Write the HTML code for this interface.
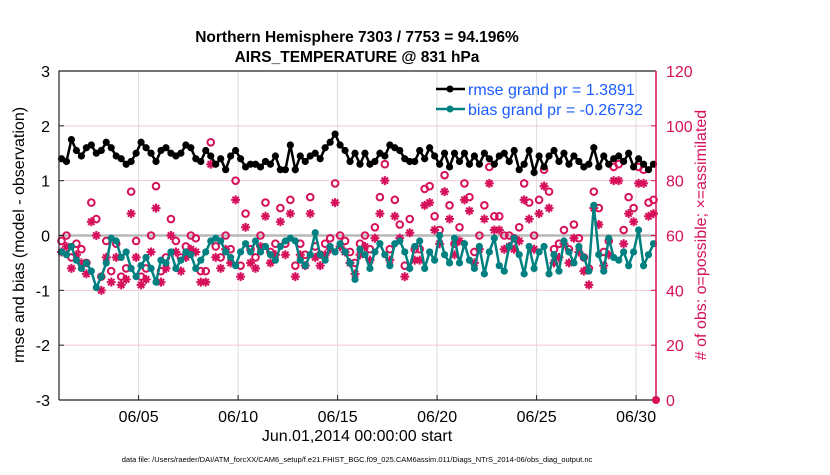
<!DOCTYPE html>
<html><head><meta charset="utf-8"><style>
body{margin:0;background:#fff;}
svg text{font-family:"Liberation Sans",Arial,sans-serif;}
</style></head><body>
<svg id="chart" width="830" height="470" viewBox="0 0 830 470" xmlns="http://www.w3.org/2000/svg">
<text x="357" y="42" text-anchor="middle" font-size="15.5" font-weight="bold">Northern Hemisphere 7303 / 7753 = 94.196%</text>
<text x="357" y="62" text-anchor="middle" font-size="15.5" font-weight="bold">AIRS_TEMPERATURE @ 831 hPa</text>
<g id="grid"></g>
<g id="marks"></g>
<g id="axes"></g>
<text transform="translate(24,235) rotate(-90)" text-anchor="middle" font-size="16">rmse and bias (model - observation)</text>
<text transform="translate(706,235) rotate(-90)" text-anchor="middle" font-size="16" fill="#d6105a"># of obs: o=possible; ×=assimilated</text>
<text x="357" y="441" text-anchor="middle" font-size="16">Jun.01,2014 00:00:00 start</text>
<text x="357" y="462" text-anchor="middle" font-size="7.5">data file: /Users/raeder/DAI/ATM_forcXX/CAM6_setup/f.e21.FHIST_BGC.f09_025.CAM6assim.011/Diags_NTrS_2014-06/obs_diag_output.nc</text>
<g>
<line x1="436" y1="89" x2="465" y2="89" stroke="#000" stroke-width="2.5"/><circle cx="450" cy="89" r="3.5" fill="#000"/>
<text x="468" y="95" font-size="16" fill="#1a5cff">rmse grand pr = 1.3891</text>
<line x1="436" y1="109" x2="465" y2="109" stroke="#008080" stroke-width="2.5"/><circle cx="450" cy="109" r="3.5" fill="#008080"/>
<text x="468" y="115" font-size="16" fill="#1a5cff">bias grand pr = -0.26732</text>
</g>
</svg>
<script>
const rmse=[1.4,1.35,1.75,1.55,1.45,1.6,1.65,1.5,1.55,1.7,1.6,1.45,1.4,1.3,1.35,1.5,1.7,1.6,1.5,1.35,
1.55,1.6,1.5,1.45,1.5,1.65,1.6,1.4,1.35,1.55,1.45,1.3,1.4,1.2,1.45,1.55,1.4,1.25,1.3,1.3,
1.25,1.35,1.3,1.45,1.2,1.2,1.65,1.2,1.45,1.35,1.45,1.5,1.4,1.6,1.7,1.85,1.65,1.55,1.35,1.5,
1.3,1.5,1.3,1.35,1.5,1.45,1.65,1.6,1.55,1.4,1.35,1.35,1.55,1.4,1.6,1.45,1.3,1.5,1.25,1.5,
1.35,1.5,1.3,1.45,1.3,1.5,1.4,1.3,1.45,1.5,1.35,1.55,1.2,1.3,1.55,1.15,1.45,1.25,1.45,1.55,
1.35,1.5,1.3,1.45,1.35,1.25,1.3,1.6,1.25,1.45,1.3,1.4,1.45,1.35,1.5,1.25,1.4,1.3,1.2,1.3];
const bias=[-0.3,-0.35,-0.2,-0.45,-0.6,-0.5,-0.65,-0.95,-0.75,-0.5,-0.05,-0.1,-0.4,-0.3,-0.6,-0.75,-0.55,-0.4,-0.6,-0.85,
-0.45,-0.5,-0.3,-0.6,-0.45,-0.3,-0.35,-0.6,-0.45,-0.3,-0.1,-0.05,-0.1,-0.3,-0.4,-0.55,-0.3,-0.15,-0.3,-0.1,
-0.3,-0.2,-0.35,-0.45,-0.2,-0.1,-0.05,-0.1,-0.45,-0.55,-0.35,0.05,-0.35,-0.45,-0.2,-0.3,-0.15,-0.3,-0.5,-0.8,
-0.25,-0.35,-0.6,-0.3,-0.15,-0.35,-0.55,-0.15,-0.1,-0.3,-0.6,-0.2,-0.1,-0.6,-0.3,-0.45,0.0,-0.35,-0.5,-0.05,
-0.5,-0.15,-0.45,-0.6,-0.2,-0.7,-0.3,-0.05,-0.55,-0.65,-0.2,-0.05,-0.35,-0.7,-0.2,-0.6,-0.3,-0.2,-0.7,-0.35,
-0.65,-0.1,-0.3,-0.5,-0.2,-0.4,-0.65,0.55,-0.35,-0.65,-0.05,-0.4,-0.45,-0.3,-0.55,-0.3,0.1,-0.55,-0.35,-0.15];
const possible=[58,60,52,57,55,50,72,66,45,58,47,57,45,48,76,58,45,48,60,78,
47,52,66,58,52,56,60,59,47,47,94,56,52,60,55,80,49,68,55,52,
60,72,54,57,70,57,73,49,57,53,74,56,53,57,59,79,60,58,54,50,
57,60,55,63,74,86,55,73,64,49,66,55,55,77,78,67,62,82,71,57,
63,79,74,54,60,71,85,67,67,60,60,59,63,79,72,60,73,84,76,55,
57,62,55,64,59,52,48,76,70,54,58,85,86,62,74,70,85,84,72,73];
const assimilated=[54,56,48,53,50,46,65,60,40,52,43,52,42,44,68,52,42,44,54,70,
43,48,60,54,47,52,55,54,43,43,86,52,48,55,50,73,45,63,50,48,
56,67,50,53,65,53,68,45,53,49,68,52,49,53,55,72,56,54,50,46,
53,56,51,59,68,80,51,67,59,45,61,51,51,71,72,62,57,76,66,53,
58,73,69,50,55,66,79,62,62,55,56,55,58,73,66,55,68,78,70,50,
52,57,50,59,54,47,42,70,64,49,53,80,80,57,68,65,79,79,67,68];
const xTickLabels=["06/05","06/10","06/15","06/20","06/25","06/30"];
const xTickDays=[4,9,14,19,24,29];
const yLeftTicks=[3,2,1,0,-1,-2,-3];
const yRightTicks=[120,100,80,60,40,20,0];

const X0=59,X1=656,Y0=71,Y1=400,NDAYS=30;
function xs(d){return X0+(d/NDAYS)*(X1-X0);}
function yl(v){return Y1-(v+3)/6*(Y1-Y0);}
function yr(v){return Y1-v/120*(Y1-Y0);}
function dayOf(i){return 0.125+i*0.25;}
const NS="http://www.w3.org/2000/svg";
function mk(tag,attrs,parent){const e=document.createElementNS(NS,tag);for(const k in attrs)e.setAttribute(k,attrs[k]);parent.appendChild(e);return e;}
const grid=document.getElementById('grid'),marks=document.getElementById('marks'),axes=document.getElementById('axes');

xTickDays.forEach((d,i)=>{
  const g=mk('line',{x1:xs(d),x2:xs(d),y1:Y0,y2:Y1,stroke:'#dcdcdc','stroke-width':1},grid);
  
  
  const t=mk('line',{x1:xs(d),x2:xs(d),y1:Y1,y2:Y1-5,stroke:'#222','stroke-width':1},axes);
  
  
  const l=mk('text',{x:xs(d),y:Y1+22,'text-anchor':'middle','font-size':16},axes);
  l.textContent=xTickLabels[i];
  
  
});
yLeftTicks.forEach(v=>{
  if(v!==3&&v!==-3){
    const g=mk('line',{x1:X0,x2:X1,y1:yl(v),y2:yl(v),stroke:v===0?'#b8b8b8':'#f5c8d8','stroke-width':v===0?2.5:1},grid);
    
    
  }
  const l=mk('text',{x:X0-9,y:yl(v)+6,'text-anchor':'end','font-size':16},axes);
  l.textContent=v;
  
  
  const t=mk('line',{x1:X0,x2:X0+5,y1:yl(v),y2:yl(v),stroke:'#222'},axes);
  
  
});
yRightTicks.forEach(v=>{
  const l=mk('text',{x:X1+10,y:yr(v)+6,'text-anchor':'start','font-size':16,fill:'#d6105a'},axes);
  l.textContent=v;
  
  
  const t=mk('line',{x1:X1,x2:X1-5,y1:yr(v),y2:yr(v),stroke:'#d6105a'},axes);
  
  
});
const fr=mk('path',{d:`M${X0},${Y1}V${Y0}H${X1}M${X0},${Y1}H${X1}`,fill:'none',stroke:'#222','stroke-width':1.2},axes);


const ra=mk('line',{x1:X1,x2:X1,y1:Y0,y2:Y1,stroke:'#d6105a','stroke-width':1.5},axes);


const rd=mk('circle',{cx:X1,cy:Y1,r:4,fill:'#d6105a'},axes);



// possible circles
possible.forEach((v,i)=>{
  const c=mk('circle',{cx:xs(dayOf(i)),cy:yr(v),r:3.3,fill:'none',stroke:'#d6105a','stroke-width':2},marks);
  
  
});
// assimilated asterisks
assimilated.forEach((v,i)=>{
  const x=xs(dayOf(i)),y=yr(v),r=4.5;
  const d=`M${x-r},${y}H${x+r}M${x},${y-r}V${y+r}M${x-r*0.7},${y-r*0.7}L${x+r*0.7},${y+r*0.7}M${x-r*0.7},${y+r*0.7}L${x+r*0.7},${y-r*0.7}`;
  const p=mk('path',{d:d,stroke:'#d6105a','stroke-width':2,fill:'none'},marks);
  
  
});
function series(vals,color,name){
  const pts=vals.map((v,i)=>xs(dayOf(i)).toFixed(1)+','+yl(v).toFixed(1)).join(' ');
  const pl=mk('polyline',{points:pts,fill:'none',stroke:color,'stroke-width':2.5},marks);
  
  
  vals.forEach((v,i)=>{
    const c=mk('circle',{cx:xs(dayOf(i)),cy:yl(v),r:3.6,fill:color},marks);
    
    
  });
}
series(bias,'#008080','bias');
series(rmse,'#000000','rmse');
</script>
</body></html>
